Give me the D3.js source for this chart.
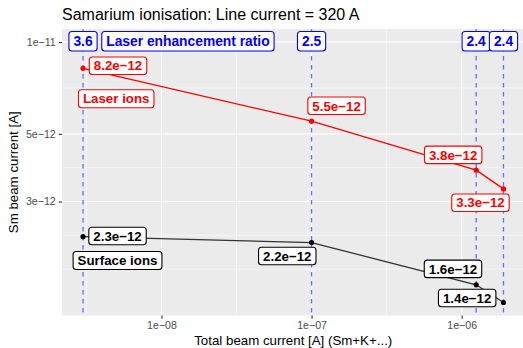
<!DOCTYPE html>
<html><head><meta charset="utf-8">
<script src="https://cdn.jsdelivr.net/npm/d3@7"></script>
<style>body{margin:0;background:#fff}svg{display:block}text{font-family:"Liberation Sans",Arial,Helvetica,sans-serif}</style>
</head><body><svg id="c" width="523" height="348"></svg>
<script>
// ---- data ----
const totalCurrent = [3e-9, 1e-7, 1.25e-6, 1.9e-6];
const laserIons = [8.2e-12, 5.5e-12, 3.8e-12, 3.3e-12];
const surfaceIons = [2.3e-12, 2.2e-12, 1.6e-12, 1.4e-12];
const enhancementRatio = ["3.6", "2.5", "2.4", "2.4"];
const ratioLevel = 1e-11;
const xTickValues = [1e-8, 1e-7, 1e-6];
const xTickLabels = ["1e\u221208", "1e\u221207", "1e\u221206"];
const yTickValues = [1e-11, 5e-12, 3e-12];
const yTickLabels = ["1e\u221211", "5e\u221212", "3e\u221212"];
const laserLabels = ["8.2e\u221212", "5.5e\u221212", "3.8e\u221212", "3.3e\u221212"];
const surfaceLabels = ["2.3e\u221212", "2.2e\u221212", "1.6e\u221212", "1.4e\u221212"];

// ---- layout (pixel offsets of repelled labels) ----
const laserOff = [[35, -2.6], [25, -15.5], [-23, -15.3], [-23, 13.8]];
const surfOff = [[34.5, -0.7], [-24.3, 13.4], [-23.2, -15.9], [-36.3, -4.5]];

const svg = d3.select("#c");
const P = {l: 62, t: 29, r: 524.5, b: 315.5};

const lx = totalCurrent.map(Math.log10);
const xr = d3.extent(lx), xe = (xr[1] - xr[0]) * 0.05;
const x = d3.scaleLog().domain([10 ** (xr[0] - xe), 10 ** (xr[1] + xe)]).range([P.l, P.r]);
const ly = [ratioLevel, ...laserIons, ...surfaceIons].map(Math.log10);
const yrr = d3.extent(ly), ye = (yrr[1] - yrr[0]) * 0.05;
const y = d3.scaleLog().domain([10 ** (yrr[0] - ye), 10 ** (yrr[1] + ye)]).range([P.b, P.t]);

// panel
svg.append("rect").attr("x", P.l).attr("y", P.t).attr("width", P.r - P.l).attr("height", P.b - P.t).attr("fill", "#EBEBEB");
const g = svg.append("g");
const lxt = xTickValues.map(Math.log10);
const xMinor = [];
{const bd = lxt[1] - lxt[0]; const b = [lxt[0] - bd, ...lxt, lxt[lxt.length - 1] + bd];
 for (let i = 0; i < b.length - 1; i++) xMinor.push((b[i] + b[i + 1]) / 2);}
const lyt = yTickValues.map(Math.log10).sort((a, b) => a - b);
const yMinor = [];
{const bd = lyt[1] - lyt[0]; const b = [lyt[0] - bd, ...lyt, lyt[lyt.length - 1] + bd];
 yMinor.push(b[0]);
 for (let i = 0; i < b.length - 1; i++) yMinor.push((b[i] + b[i + 1]) / 2);}
xMinor.forEach(v => { const px = x(10 ** v); if (px > P.l && px < P.r) g.append("line").attr("x1", px).attr("x2", px).attr("y1", P.t).attr("y2", P.b).attr("stroke", "#fff").attr("stroke-width", 0.55); });
yMinor.forEach(v => { const py = y(10 ** v); if (py > P.t && py < P.b) g.append("line").attr("x1", P.l).attr("x2", P.r).attr("y1", py).attr("y2", py).attr("stroke", "#fff").attr("stroke-width", 0.55); });
xTickValues.forEach(v => g.append("line").attr("x1", x(v)).attr("x2", x(v)).attr("y1", P.t).attr("y2", P.b).attr("stroke", "#fff").attr("stroke-width", 1.1));
yTickValues.forEach(v => g.append("line").attr("x1", P.l).attr("x2", P.r).attr("y1", y(v)).attr("y2", y(v)).attr("stroke", "#fff").attr("stroke-width", 1.1));

// vertical dashed lines
totalCurrent.forEach(v => { const px = x(v);
  g.append("line").attr("x1", px).attr("x2", px).attr("y1", P.t).attr("y2", P.b)
  .attr("stroke", "#6B6BF5").attr("stroke-width", 1.3).attr("stroke-dasharray", "4.5,4.5"); });

// lines
const line = d3.line().x(d => x(d[0])).y(d => y(d[1]));
const laserPts = totalCurrent.map((v, i) => [v, laserIons[i]]);
const surfPts = totalCurrent.map((v, i) => [v, surfaceIons[i]]);
g.append("path").attr("d", line(laserPts)).attr("fill", "none").attr("stroke", "#FF0000").attr("stroke-width", 1.3);
g.append("path").attr("d", line(surfPts)).attr("fill", "none").attr("stroke", "#333333").attr("stroke-width", 1.3);
laserPts.forEach(d => g.append("circle").attr("cx", x(d[0])).attr("cy", y(d[1])).attr("r", 2.6).attr("fill", "#FF0000"));
surfPts.forEach(d => g.append("circle").attr("cx", x(d[0])).attr("cy", y(d[1])).attr("r", 2.6).attr("fill", "#000"));

// label helper (segment only when the point is farther than ~8px from the box)
function label(cx, cy, txt, color, size, h, pt) {
  const lg = svg.append("g");
  const t = lg.append("text").attr("x", cx).attr("y", cy).attr("text-anchor", "middle")
    .attr("dy", "0.36em").attr("font-weight", "bold").attr("font-size", size).attr("fill", color).text(txt);
  const w = t.node().getComputedTextLength() + 9;
  if (pt) {
    const nx = Math.max(cx - w / 2, Math.min(pt[0], cx + w / 2));
    const ny = Math.max(cy - h / 2, Math.min(pt[1], cy + h / 2));
    if (Math.hypot(pt[0] - nx, pt[1] - ny) > 8)
      svg.insert("line", () => lg.node()).attr("x1", nx).attr("y1", ny).attr("x2", pt[0]).attr("y2", pt[1])
        .attr("stroke", color).attr("stroke-width", 1);
  }
  lg.insert("rect", "text").attr("x", cx - w / 2).attr("y", cy - h / 2).attr("width", w).attr("height", h)
    .attr("rx", 3).attr("fill", "#fff").attr("stroke", color).attr("stroke-width", 1.1);
}
laserPts.forEach((d, i) => { const px = x(d[0]), py = y(d[1]);
  label(px + laserOff[i][0], py + laserOff[i][1], laserLabels[i], "#FF0000", 13.3, 17.5, [px, py]); });
surfPts.forEach((d, i) => { const px = x(d[0]), py = y(d[1]);
  label(px + surfOff[i][0], py + surfOff[i][1], surfaceLabels[i], "#000", 13.3, 17.5, [px, py]); });
label(x(totalCurrent[0]) + 33.2, y(laserIons[0]) + 30.4, "Laser ions", "#FF0000", 13.3, 18);
label(x(totalCurrent[0]) + 34.5, y(surfaceIons[0]) + 23.8, "Surface ions", "#000", 13.3, 18);
enhancementRatio.forEach((r, i) => label(x(totalCurrent[i]), y(ratioLevel) - 0.8, r, "#0000FF", 13.8, 19.5));
label(x(1.5e-8), y(ratioLevel) - 0.8, "Laser enhancement ratio", "#0000FF", 13.8, 19.5);

// axes
const ax = svg.append("g").attr("transform", `translate(0,${P.b})`)
  .call(d3.axisBottom(x).tickValues(xTickValues).tickFormat((d, i) => xTickLabels[i]).tickSize(3.3).tickPadding(3));
const ay = svg.append("g").attr("transform", `translate(${P.l},0)`)
  .call(d3.axisLeft(y).tickValues(yTickValues).tickFormat((d, i) => yTickLabels[i]).tickSize(3.3).tickPadding(3));
[ax, ay].forEach(a => { a.select(".domain").remove();
  a.selectAll(".tick line").attr("stroke", "#333333").attr("stroke-width", 1.1);
  a.selectAll(".tick text").attr("fill", "#4D4D4D").attr("font-size", 10.6).attr("font-family", "Liberation Sans, Arial, sans-serif"); });

svg.append("text").attr("x", (P.l + P.r) / 2).attr("y", 344.5).attr("text-anchor", "middle").attr("font-size", 13.3).text("Total beam current [A] (Sm+K+...)");
svg.append("text").attr("transform", `translate(17.5,${(P.t + P.b) / 2}) rotate(-90)`).attr("text-anchor", "middle").attr("font-size", 13.3).text("Sm beam current [A]");
svg.append("text").attr("x", P.l).attr("y", 19.5).attr("font-size", 16).text("Samarium ionisation: Line current = 320 A");
</script></body></html>
